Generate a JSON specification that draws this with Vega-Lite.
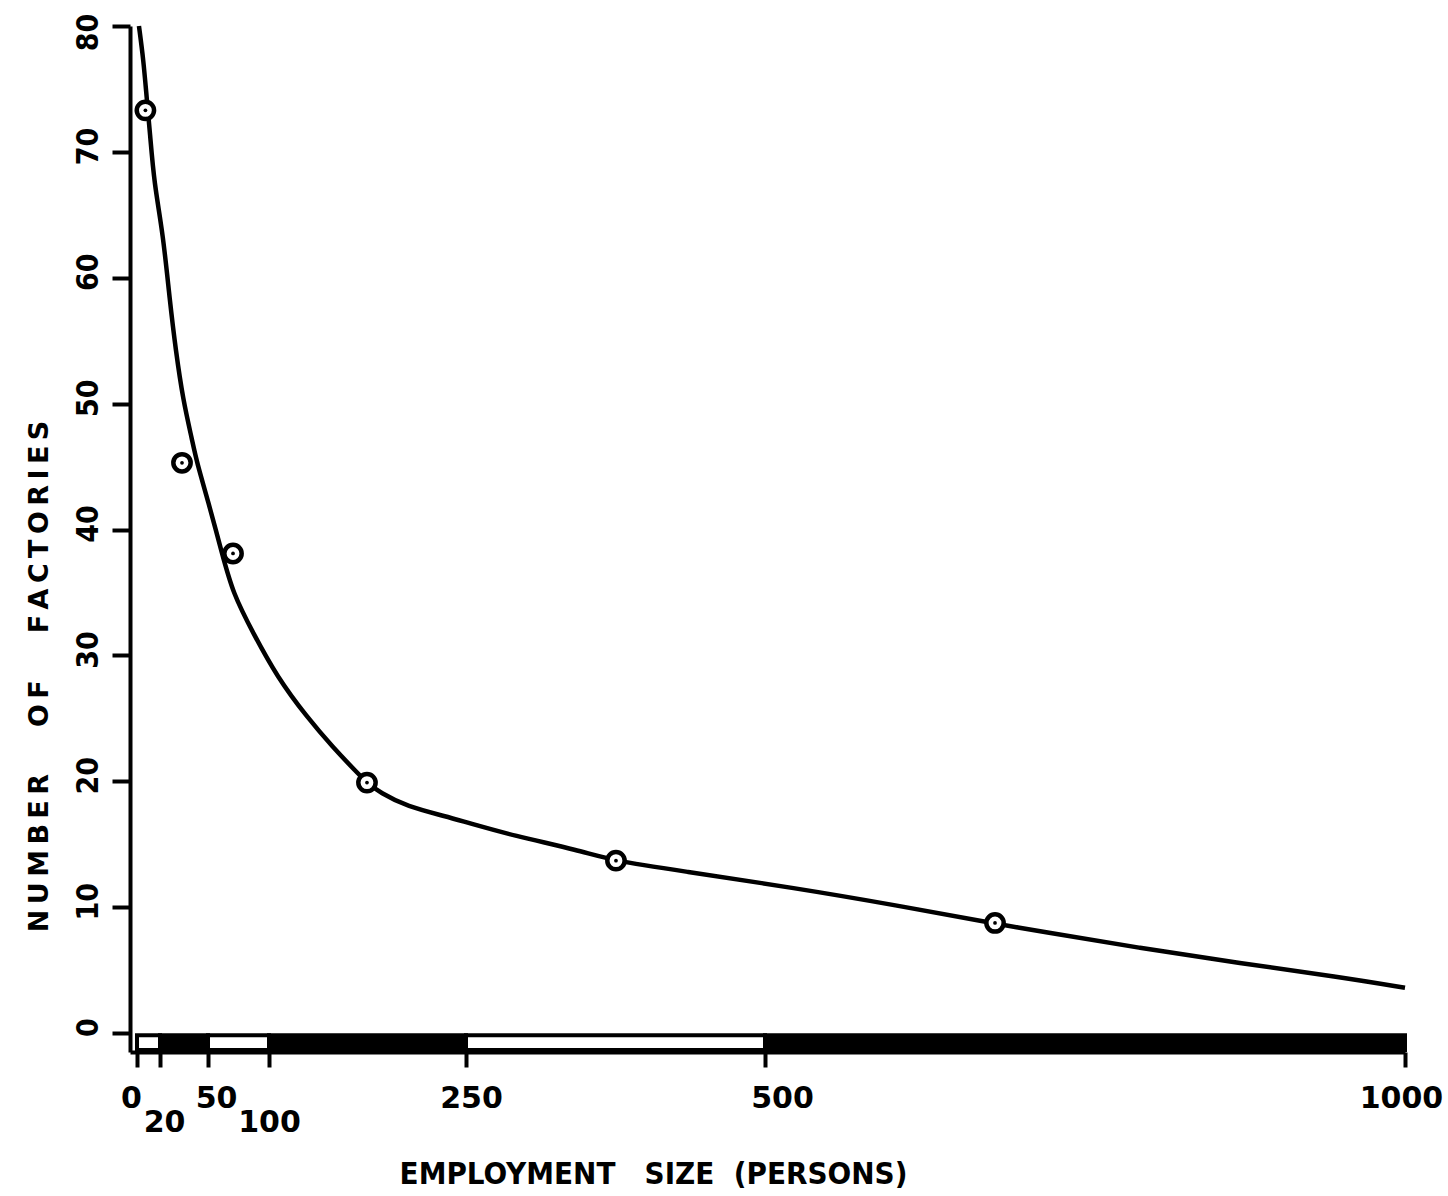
{
  "$schema": "https://vega.github.io/schema/vega-lite/v6.json",
  "width": 1275,
  "height": 1026,
  "autosize": {"type": "none"},
  "padding": {"left": 130, "top": 26, "right": 43, "bottom": 144},
  "background": "white",
  "config": {
    "view": {"stroke": null},
    "axis": {"grid": false, "domainColor": "black", "tickColor": "black", "labelColor": "black", "titleColor": "black"},
    "axisY": {
      "domainWidth": 4,
      "tickWidth": 4,
      "tickSize": 18,
      "labelFont": "DejaVu Sans Condensed, DejaVu Sans",
      "labelFontWeight": "bold",
      "labelFontSize": 30,
      "labelAngle": -90,
      "labelAlign": "center",
      "labelBaseline": "alphabetic",
      "labelPadding": 15,
      "labelOverlap": false,
      "labelBound": false,
      "labelFlush": false,
      "titleFont": "DejaVu Sans",
      "titleFontWeight": "bold",
      "titleFontSize": 27,
      "titleAngle": -90,
      "titleX": -83,
      "titleY": 650,
      "titleAlign": "center",
      "titleBaseline": "alphabetic"
    }
  },
  "datasets": {
    "scalebar": [
      {"from": 0, "to": 20, "band": "open"},
      {"from": 20, "to": 50, "band": "filled"},
      {"from": 50, "to": 100, "band": "open"},
      {"from": 100, "to": 250, "band": "filled"},
      {"from": 250, "to": 500, "band": "open"},
      {"from": 500, "to": 1000, "band": "filled"}
    ],
    "curve": [
      {"size": 1.7, "factories": 80},
      {"size": 5.6, "factories": 77.3},
      {"size": 8.4, "factories": 74.3},
      {"size": 11.3, "factories": 71.5},
      {"size": 14.9, "factories": 67.5},
      {"size": 21.9, "factories": 63.5},
      {"size": 26.1, "factories": 58.2},
      {"size": 29.9, "factories": 54.2},
      {"size": 34.4, "factories": 50.3},
      {"size": 40.1, "factories": 47.1},
      {"size": 43.1, "factories": 45.3},
      {"size": 50, "factories": 42.3},
      {"size": 61.5, "factories": 38.1},
      {"size": 70.5, "factories": 34.9},
      {"size": 86.9, "factories": 31.8},
      {"size": 106.1, "factories": 28.3},
      {"size": 128.9, "factories": 25.1},
      {"size": 148.7, "factories": 22.7},
      {"size": 167, "factories": 20.7},
      {"size": 174.6, "factories": 19.9},
      {"size": 184.5, "factories": 19.1},
      {"size": 205, "factories": 18.0},
      {"size": 235.5, "factories": 17.2},
      {"size": 251.7, "factories": 16.7},
      {"size": 289.3, "factories": 15.7},
      {"size": 345.3, "factories": 14.5},
      {"size": 372.8, "factories": 13.7},
      {"size": 428.9, "factories": 12.9},
      {"size": 525, "factories": 11.5},
      {"size": 600, "factories": 10.2},
      {"size": 679.7, "factories": 8.7},
      {"size": 714.8, "factories": 8.1},
      {"size": 793, "factories": 6.75},
      {"size": 871, "factories": 5.56},
      {"size": 949, "factories": 4.45},
      {"size": 1000, "factories": 3.6}
    ],
    "observed": [
      {"size": 7.3, "factories": 73.3},
      {"size": 33.75, "factories": 45.3},
      {"size": 70.5, "factories": 38.1},
      {"size": 174.6, "factories": 19.9},
      {"size": 375.4, "factories": 13.7},
      {"size": 679.7, "factories": 8.75}
    ]
  },
  "encoding": {
    "x": {
      "field": "size",
      "type": "quantitative",
      "scale": {"domain": [-6, 0, 20, 50, 100, 250, 500, 1000], "range": [0, 7, 30, 78, 139, 336, 635, 1275], "nice": false, "zero": false},
      "axis": {
        "title": "EMPLOYMENT\u00a0\u00a0\u00a0SIZE\u00a0\u00a0(PERSONS)",
        "values": [0, 20, 50, 100, 250, 500, 1000],
        "format": "d",
        "domainWidth": 4,
        "tickWidth": 4,
        "tickSize": 15,
        "labelFont": "DejaVu Sans",
        "labelFontWeight": "bold",
        "labelFontSize": 30,
        "labelAngle": 0,
        "labelAlign": "center",
        "labelBaseline": "top",
        "labelPadding": {"condition": {"test": "datum.value == 20 || datum.value == 100", "value": 40}, "value": 16},
        "labelOffset": {"condition": [
          {"test": "datum.value == 0", "value": -6},
          {"test": "datum.value == 20", "value": 4},
          {"test": "datum.value == 50", "value": 8},
          {"test": "datum.value == 250", "value": 5},
          {"test": "datum.value == 500", "value": 17},
          {"test": "datum.value == 1000", "value": -4}
        ], "value": 0},
        "labelOverlap": false,
        "labelFlush": false,
        "labelBound": false,
        "titleFont": "DejaVu Sans Condensed, DejaVu Sans",
        "titleFontWeight": "bold",
        "titleFontSize": 31,
        "titleX": 523,
        "titleY": 131,
        "titleAlign": "center",
        "titleBaseline": "alphabetic"
      }
    }
  },
  "layer": [
    {
      "data": {"name": "scalebar"},
      "mark": {"type": "rect", "stroke": "black", "strokeWidth": 4},
      "encoding": {
        "x": {"field": "from", "type": "quantitative"},
        "x2": {"field": "to"},
        "y": {"datum": -0.16, "type": "quantitative", "scale": {"domain": [-1.5, 80], "nice": false, "zero": false},
              "axis": {"title": "N\u2009U\u2009M\u2009B\u2009E\u2009R\u00a0\u00a0\u00a0\u00a0\u00a0O\u2009F\u00a0\u00a0\u00a0\u00a0\u00a0F\u2009A\u2009C\u2009T\u2009O\u2009R\u2009I\u2009E\u2009S", "values": [0, 10, 20, 30, 40, 50, 60, 70, 80],
                       "labelOffset": {"condition": {"test": "datum.value == 80", "value": 6}, "value": -6}}},
        "y2": {"datum": -1.35},
        "color": {"field": "band", "type": "nominal", "scale": {"domain": ["open", "filled"], "range": ["white", "black"]}, "legend": null}
      }
    },
    {
      "data": {"name": "curve"},
      "mark": {"type": "line", "color": "black", "strokeWidth": 4.5, "interpolate": "basis"},
      "encoding": {
        "y": {"field": "factories", "type": "quantitative", "scale": {"domain": [-1.5, 80], "nice": false, "zero": false},
              "axis": {"title": "N\u2009U\u2009M\u2009B\u2009E\u2009R\u00a0\u00a0\u00a0\u00a0\u00a0O\u2009F\u00a0\u00a0\u00a0\u00a0\u00a0F\u2009A\u2009C\u2009T\u2009O\u2009R\u2009I\u2009E\u2009S", "values": [0, 10, 20, 30, 40, 50, 60, 70, 80],
                       "labelOffset": {"condition": {"test": "datum.value == 80", "value": 6}, "value": -6}}}
      }
    },
    {
      "data": {"name": "observed"},
      "mark": {"type": "circle", "fill": "white", "stroke": "black", "strokeWidth": 4.5, "size": 300, "opacity": 1},
      "encoding": {
        "y": {"field": "factories", "type": "quantitative", "scale": {"domain": [-1.5, 80], "nice": false, "zero": false},
              "axis": {"title": "N\u2009U\u2009M\u2009B\u2009E\u2009R\u00a0\u00a0\u00a0\u00a0\u00a0O\u2009F\u00a0\u00a0\u00a0\u00a0\u00a0F\u2009A\u2009C\u2009T\u2009O\u2009R\u2009I\u2009E\u2009S", "values": [0, 10, 20, 30, 40, 50, 60, 70, 80],
                       "labelOffset": {"condition": {"test": "datum.value == 80", "value": 6}, "value": -6}}}
      }
    },
    {
      "data": {"name": "observed"},
      "mark": {"type": "circle", "color": "black", "size": 14, "opacity": 1},
      "encoding": {
        "y": {"field": "factories", "type": "quantitative", "scale": {"domain": [-1.5, 80], "nice": false, "zero": false},
              "axis": {"title": "N\u2009U\u2009M\u2009B\u2009E\u2009R\u00a0\u00a0\u00a0\u00a0\u00a0O\u2009F\u00a0\u00a0\u00a0\u00a0\u00a0F\u2009A\u2009C\u2009T\u2009O\u2009R\u2009I\u2009E\u2009S", "values": [0, 10, 20, 30, 40, 50, 60, 70, 80],
                       "labelOffset": {"condition": {"test": "datum.value == 80", "value": 6}, "value": -6}}}
      }
    }
  ]
}
